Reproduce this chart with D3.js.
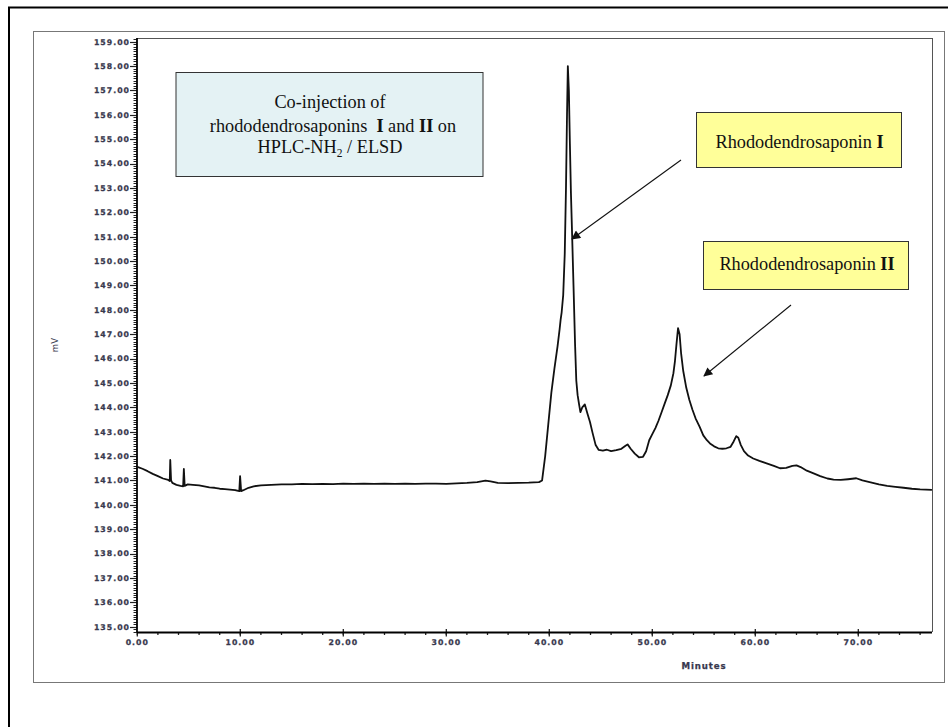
<!DOCTYPE html>
<html>
<head>
<meta charset="utf-8">
<script src="https://cdn.jsdelivr.net/npm/d3@7"></script>
<style>
  html, body { margin: 0; padding: 0; background: #fff; }
  svg { display: block; }
  .tick-label { font-family: "DejaVu Sans", sans-serif; font-weight: bold; font-size: 7.8px; letter-spacing: 1.0px; fill: #38384e; stroke: #38384e; stroke-width: 0.25px; }
  .serif { font-family: "Liberation Serif", "Times New Roman", serif; fill: #111; }
</style>
</head>
<body>
<svg id="chart" width="948" height="727"></svg>
<script>
// ---- data ----
const times = [0,0.5,1.0,1.5,2.0,2.5,3.0,3.15,3.2,3.28,3.4,3.8,4.2,4.45,4.52,4.6,4.9,5.4,6.0,6.5,7.0,7.5,8.0,8.5,9.0,9.5,9.9,9.98,10.08,10.3,10.8,11.3,12,13,14,15,16,17,18,19,20,21,22,23,24,25,26,27,28,29,30,31,32,33,33.8,34.3,35,36,37,38,39.0,39.3,39.6,39.9,40.2,40.5,40.8,41.0,41.1,41.2,41.35,41.5,41.62,41.72,41.8,41.9,42.0,42.1,42.2,42.35,42.5,42.62,42.75,42.9,43.02,43.2,43.45,43.7,43.95,44.2,44.5,44.8,45.2,45.6,46.0,46.5,47.0,47.4,47.6,47.9,48.3,48.7,49.1,49.4,49.7,50.0,50.3,50.6,50.9,51.2,51.5,51.8,52.05,52.2,52.35,52.5,52.65,52.8,53.0,53.3,53.6,53.9,54.2,54.6,54.95,55.3,55.6,56.0,56.4,56.8,57.2,57.6,57.9,58.15,58.35,58.6,58.9,59.3,59.8,60.4,61.1,61.8,62.4,63.0,63.6,64.0,64.4,65.0,65.6,66.3,67.0,67.6,68.3,69.0,69.8,70.4,71.2,72.0,72.8,73.6,74.4,75.2,76.0,77.15];
const signal = [141.56,141.48,141.38,141.27,141.18,141.08,141.02,140.98,141.84,141.0,140.9,140.82,140.78,140.76,141.47,140.78,140.84,140.82,140.8,140.76,140.72,140.7,140.66,140.64,140.62,140.6,140.56,141.18,140.56,140.6,140.7,140.76,140.8,140.82,140.84,140.84,140.86,140.85,140.86,140.85,140.87,140.86,140.87,140.86,140.87,140.86,140.87,140.86,140.87,140.87,140.86,140.88,140.9,140.93,140.99,140.96,140.9,140.89,140.9,140.91,140.93,141.0,142.0,143.3,144.6,145.6,146.5,147.2,147.6,147.9,148.6,150.3,153.0,156.0,158.0,157.0,154.8,152.8,151.3,149.0,146.6,145.1,144.5,144.1,143.8,144.0,144.12,143.75,143.4,142.95,142.45,142.25,142.22,142.26,142.2,142.24,142.3,142.42,142.48,142.3,142.1,141.95,141.97,142.2,142.65,142.9,143.15,143.45,143.8,144.15,144.5,144.9,145.4,145.9,146.6,147.25,147.0,146.2,145.5,144.8,144.3,143.9,143.55,143.2,142.85,142.65,142.52,142.4,142.32,142.3,142.32,142.38,142.6,142.82,142.75,142.45,142.2,142.02,141.9,141.8,141.7,141.6,141.5,141.52,141.6,141.62,141.55,141.4,141.3,141.18,141.08,141.03,141.02,141.05,141.09,141.0,140.92,140.84,140.78,140.74,140.7,140.66,140.63,140.61];

const yTickValues = d3.range(135, 160, 1);
const xTickValues = [0, 10, 20, 30, 40, 50, 60, 70];
const xAxisTitle = "Minutes";
const yAxisTitle = "mV";
const infoLines = ["Co-injection of", "rhododendrosaponins  I and II on", "HPLC-NH2 / ELSD"];
const peakLabels = ["Rhododendrosaponin I", "Rhododendrosaponin II"];

// ---- layout ----
const svg = d3.select("#chart");
const plot = { left: 137, right: 932, top: 38, bottom: 632 };

const x = d3.scaleLinear().domain([0, 70]).range([137.3, 858.3]);
const y = d3.scaleLinear().domain([135, 159]).range([626.7, 41.7]);

// outer frames
svg.append("rect").attr("x", 9).attr("y", 7.5).attr("width", 960).attr("height", 740)
  .attr("fill", "none").attr("stroke", "#000").attr("stroke-width", 2);
svg.append("rect").attr("x", 33.5).attr("y", 31.5).attr("width", 911).attr("height", 651)
  .attr("fill", "none").attr("stroke", "#777").attr("stroke-width", 1);

// plot frame: top and right (gray), left and bottom (black)
svg.append("line").attr("x1", plot.left).attr("x2", plot.right).attr("y1", plot.top + 0.5).attr("y2", plot.top + 0.5)
  .attr("stroke", "#555").attr("stroke-width", 1);
svg.append("line").attr("x1", plot.right + 0.5).attr("x2", plot.right + 0.5).attr("y1", plot.top).attr("y2", plot.bottom)
  .attr("stroke", "#555").attr("stroke-width", 1);

// y axis
const yMinor = d3.range(134.8, 159.11, 0.1).map(v => Math.round(v * 10) / 10);
const gy = svg.append("g");
gy.selectAll("line.minor").data(yMinor).join("line")
  .attr("x1", plot.left - 3.5).attr("x2", plot.left)
  .attr("y1", d => Math.round(y(d)) + 0.5).attr("y2", d => Math.round(y(d)) + 0.5)
  .attr("stroke", "#222").attr("stroke-width", 1);
gy.selectAll("line.major").data(yTickValues).join("line")
  .attr("x1", plot.left - 7).attr("x2", plot.left)
  .attr("y1", d => Math.round(y(d)) + 0.5).attr("y2", d => Math.round(y(d)) + 0.5)
  .attr("stroke", "#222").attr("stroke-width", 1.2);
gy.selectAll("text").data(yTickValues).join("text")
  .attr("class", "tick-label")
  .attr("x", plot.left - 7).attr("y", d => y(d) + 2.9)
  .attr("text-anchor", "end")
  .text(d => d.toFixed(2));
svg.append("line").attr("x1", plot.left).attr("x2", plot.left).attr("y1", plot.top).attr("y2", plot.bottom + 1)
  .attr("stroke", "#000").attr("stroke-width", 1.8);

// x axis
const xMinor = d3.range(0, 78, 2);
const gx = svg.append("g");
gx.selectAll("line.minor").data(xMinor).join("line")
  .attr("x1", d => x(d)).attr("x2", d => x(d))
  .attr("y1", plot.bottom).attr("y2", plot.bottom + 3)
  .attr("stroke", "#222").attr("stroke-width", 1.3);
gx.selectAll("line.major").data(xTickValues).join("line")
  .attr("x1", d => x(d)).attr("x2", d => x(d))
  .attr("y1", plot.bottom - 3).attr("y2", plot.bottom + 4.5)
  .attr("stroke", "#222").attr("stroke-width", 1.3);
gx.selectAll("text").data(xTickValues).join("text")
  .attr("class", "tick-label")
  .attr("x", d => x(d)).attr("y", plot.bottom + 12.5)
  .attr("text-anchor", "middle")
  .text(d => d.toFixed(2));
svg.append("line").attr("x1", plot.left).attr("x2", plot.right).attr("y1", plot.bottom + 0.5).attr("y2", plot.bottom + 0.5)
  .attr("stroke", "#000").attr("stroke-width", 1.8);

svg.append("text").attr("class", "tick-label").attr("x", 704).attr("y", 669)
  .attr("text-anchor", "middle").style("font-size", "8.6px").style("letter-spacing", "0.9px").text(xAxisTitle);
svg.append("text").attr("class", "tick-label")
  .attr("transform", "translate(58,345) rotate(-90)")
  .attr("text-anchor", "middle").style("font-weight", "normal").style("stroke-width", "0")
  .style("font-size", "8.5px").style("letter-spacing", "0.3px").text(yAxisTitle);

// chromatogram trace
const pts = times.map((t, i) => [t, signal[i]]);
svg.append("path").datum(pts)
  .attr("fill", "none").attr("stroke", "#111").attr("stroke-width", 1.8)
  .attr("stroke-linejoin", "round")
  .attr("d", d3.line().x(d => x(d[0])).y(d => y(d[1])));

// info box
svg.append("rect").attr("x", 176).attr("y", 72.5).attr("width", 307).attr("height", 104)
  .attr("fill", "#e4f2f4").attr("stroke", "#333").attr("stroke-width", 1);
const infoBase = [108.3, 131.7, 153.3];
const fs = "18.3px";
svg.append("text").attr("class", "serif").attr("x", 330).attr("y", infoBase[0])
  .attr("text-anchor", "middle").style("font-size", fs).text(infoLines[0]);
const t2 = svg.append("text").attr("class", "serif").attr("x", 333).attr("y", infoBase[1])
  .attr("text-anchor", "middle").style("font-size", fs);
t2.append("tspan").text("rhododendrosaponins\u00a0\u00a0");
t2.append("tspan").style("font-weight", "bold").text("I");
t2.append("tspan").text(" and ");
t2.append("tspan").style("font-weight", "bold").text("II");
t2.append("tspan").text(" on");
const t3 = svg.append("text").attr("class", "serif").attr("x", 330).attr("y", infoBase[2])
  .attr("text-anchor", "middle").style("font-size", fs);
t3.append("tspan").text("HPLC-NH");
t3.append("tspan").attr("dy", 4).style("font-size", "11.5px").text("2");
t3.append("tspan").attr("dy", -4).text(" / ELSD");

// peak label boxes
const boxes = [
  { x: 696.5, y: 112.5, w: 205, h: 55, cx: 799.5, by: 148, name: "Rhododendrosaponin ", num: "I" },
  { x: 703.5, y: 241.5, w: 205, h: 48, cx: 807, by: 270, name: "Rhododendrosaponin ", num: "II" }
];
boxes.forEach(b => {
  svg.append("rect").attr("x", b.x).attr("y", b.y).attr("width", b.w).attr("height", b.h)
    .attr("fill", "#ffff99").attr("stroke", "#333").attr("stroke-width", 1);
  const t = svg.append("text").attr("class", "serif").attr("x", b.cx).attr("y", b.by)
    .attr("text-anchor", "middle").style("font-size", fs);
  t.append("tspan").text(b.name);
  t.append("tspan").style("font-weight", "bold").text(b.num);
});

// arrows
svg.append("defs").append("marker").attr("id", "ah")
  .attr("viewBox", "0 0 10 10").attr("refX", 9).attr("refY", 5)
  .attr("markerWidth", 11).attr("markerHeight", 9).attr("markerUnits", "userSpaceOnUse")
  .attr("orient", "auto")
  .append("path").attr("d", "M0,0 L10,5 L0,10 z").attr("fill", "#111");
const arrows = [
  { x1: 681, y1: 160, x2: 572, y2: 239 },
  { x1: 791, y1: 305, x2: 704, y2: 376 }
];
arrows.forEach(a => {
  svg.append("line").attr("x1", a.x1).attr("y1", a.y1).attr("x2", a.x2).attr("y2", a.y2)
    .attr("stroke", "#111").attr("stroke-width", 1.1).attr("marker-end", "url(#ah)");
});
</script>
</body>
</html>
